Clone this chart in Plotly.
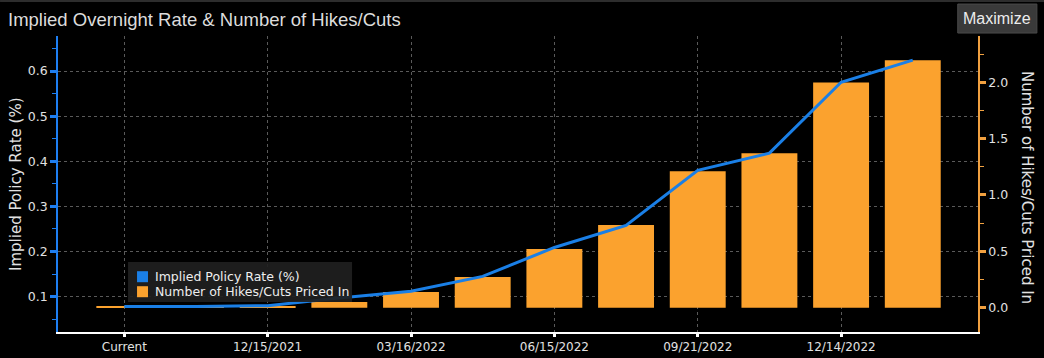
import plotly.graph_objects as go

# ---------------- data ----------------
categories = ["Current", "11/03/2021", "12/15/2021", "01/26/2022", "03/16/2022", "05/04/2022",
              "06/15/2022", "07/27/2022", "09/21/2022", "11/02/2022", "12/14/2022", "02/01/2023"]
tick_labels = ["Current", "12/15/2021", "03/16/2022", "06/15/2022", "09/21/2022", "12/14/2022"]
implied_rate = [0.078, 0.078, 0.080, 0.097, 0.112, 0.145, 0.209, 0.258, 0.380, 0.418, 0.575, 0.624]
hikes_priced = [0.008, 0.008, 0.010, 0.050, 0.139, 0.272, 0.520, 0.733, 1.210, 1.371, 1.998, 2.196]
left_ticks = [0.1, 0.2, 0.3, 0.4, 0.5, 0.6]
right_ticks = [0.0, 0.5, 1.0, 1.5, 2.0]

title_text = "Implied Overnight Rate & Number of Hikes/Cuts"
left_title = "Implied Policy Rate (%)"
right_title = "Number of Hikes/Cuts Priced In"
legend_names = [left_title, right_title]

# ---------------- style ----------------
BLUE = "#1a7fe6"
ORANGE = "#fba22e"
AXIS_BLUE = "#1e7ff2"
AXIS_ORANGE = "#f0a040"
TXT = "#e2e2e2"
GRID = "#5a5a5a"
FONT = "DejaVu Sans"
NARROW = "Liberation Sans, Arial, sans-serif"

fig = go.Figure()

fig.add_trace(go.Bar(x=categories, y=hikes_priced, yaxis="y", marker=dict(color=ORANGE, line=dict(width=0)),
                     width=0.78, showlegend=False, name=right_title))
fig.add_trace(go.Scatter(x=categories, y=implied_rate, yaxis="y2", mode="lines",
                         line=dict(color=BLUE, width=3), showlegend=False, name=left_title))

fig.update_layout(
    width=1044, height=358,
    margin=dict(l=58, r=66, t=36, b=26),
    paper_bgcolor="#000000", plot_bgcolor="#000000",
    font=dict(family=FONT, color=TXT, size=12),
    title=dict(text=title_text, font=dict(family=NARROW, size=18.5, color="#dcdcdc"),
               x=8 / 1044, xanchor="left", xref="container",
               y=1 - 20 / 358, yanchor="middle", yref="container", automargin=False),
    showlegend=False,
    xaxis=dict(type="category", range=[-0.925, 11.91], automargin=False,
               tickmode="array", tickvals=tick_labels, ticktext=tick_labels,
               showgrid=True, gridcolor=GRID, griddash="3px,3px", gridwidth=1,
               showline=True, linecolor="#ffffff", linewidth=1.5,
               ticks="outside", tickcolor="#ffffff", ticklen=3, tickwidth=3,
               tickfont=dict(family=FONT, size=12, color=TXT), zeroline=False),
    yaxis=dict(side="right", range=[-0.215, 2.41], automargin=False,
               tickmode="array", tickvals=right_ticks, tickformat=".1f",
               showgrid=False, zeroline=False,
               showline=True, linecolor=AXIS_ORANGE, linewidth=1.5,
               ticks="outside", tickcolor=AXIS_ORANGE, ticklen=6, tickwidth=3,
               minor=dict(ticks="outside", ticklen=4, tickwidth=1, tickcolor=AXIS_ORANGE,
                          tickmode="linear", tick0=0.25, dtick=0.5),
               tickfont=dict(family=FONT, size=12.5, color=TXT)),
    yaxis2=dict(side="left", overlaying="y", range=[0.0217, 0.6776], automargin=False,
                tickmode="array", tickvals=left_ticks, tickformat=".1f",
                showgrid=True, gridcolor=GRID, griddash="3px,3px", gridwidth=1,
                zeroline=False,
                showline=True, linecolor=AXIS_BLUE, linewidth=1.5,
                ticks="outside", tickcolor=AXIS_BLUE, ticklen=6, tickwidth=3,
                minor=dict(ticks="outside", ticklen=4, tickwidth=1, tickcolor=AXIS_BLUE,
                           tickmode="linear", tick0=0.05, dtick=0.1),
                tickfont=dict(family=FONT, size=12.5, color=TXT)),
)

# axis titles
fig.add_annotation(text=left_title, xref="paper", yref="paper", x=-0.0457, y=0.5,
                   textangle=-90, showarrow=False, xanchor="center", yanchor="middle",
                   font=dict(family=FONT, size=15, color=TXT))
fig.add_annotation(text=right_title, xref="paper", yref="paper", x=1.0533, y=0.49,
                   textangle=90, showarrow=False, xanchor="center", yanchor="middle",
                   font=dict(family=FONT, size=15, color=TXT))

# legend box (drawn as shapes + text)
fig.add_shape(type="rect", xref="paper", yref="paper", x0=0.0761, x1=0.3196, y0=0.1014, y1=0.2365,
              fillcolor="rgba(32,32,32,0.92)", line=dict(width=0), layer="above")
for i, (nm, col) in enumerate(zip(legend_names, [BLUE, ORANGE])):
    yc = 0.1868 - i * 0.0507
    fig.add_shape(type="rect", xref="paper", yref="paper", x0=0.0859, x1=0.0978,
                  y0=yc - 0.0186, y1=yc + 0.0186, fillcolor=col, line=dict(width=0), layer="above")
    fig.add_annotation(text=nm, xref="paper", yref="paper", x=0.1033, y=yc,
                       showarrow=False, xanchor="left", yanchor="middle",
                       font=dict(family=FONT, size=12.5, color="#eeeeee"))

# top separator line
fig.add_shape(type="line", xref="paper", yref="paper", x0=-0.063, x1=1.072, y0=1.118, y1=1.118,
              line=dict(color="#3c3c3c", width=1.5))
# Maximize button
fig.add_shape(type="rect", xref="paper", yref="paper", x0=0.978, x1=1.064, y0=1.010, y1=1.108,
              fillcolor="#3a3a3a", line=dict(color="#4a4a4a", width=1))
fig.add_annotation(text="Maximize", xref="paper", yref="paper", x=1.021, y=1.059,
                   showarrow=False, xanchor="center", yanchor="middle",
                   font=dict(family=NARROW, size=16, color="#ececec"))

fig.write_html("out.html", config={"displayModeBar": False},
               post_script="document.body.style.margin='0px';document.body.style.background='#000';")
